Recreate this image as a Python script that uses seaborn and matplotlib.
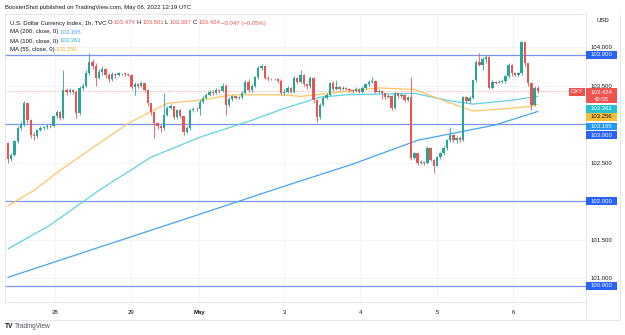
import matplotlib
matplotlib.use('Agg')
import matplotlib.pyplot as plt
from matplotlib.patches import Rectangle
from matplotlib.lines import Line2D
import pandas as pd
import seaborn as sns

# DXY 1h candles (open = previous close)
first_open = 102.75
closes = [102.55, 102.60, 102.78, 102.95, 103.00, 103.27, 103.05, 102.86, 102.84, 102.92,
          102.95, 102.96, 102.98, 102.97, 103.10, 103.16, 103.08, 103.44, 103.42, 103.44,
          103.42, 103.14, 103.47, 103.50, 103.66, 103.81, 103.76, 103.60, 103.68, 103.72,
          103.64, 103.58, 103.65, 103.64, 103.66, 103.66, 103.65, 103.64, 103.48, 103.52,
          103.50, 103.53, 103.44, 103.27, 103.16, 103.01, 102.97, 102.95, 103.12, 103.21,
          103.23, 103.09, 103.18, 103.10, 102.90, 102.95, 103.18, 103.20, 103.19, 103.29,
          103.34, 103.38, 103.42, 103.40, 103.44, 103.43, 103.50, 103.25, 103.32, 103.36,
          103.34, 103.35, 103.41, 103.55, 103.44, 103.50, 103.61, 103.73, 103.75, 103.60,
          103.58, 103.59, 103.58, 103.56, 103.40, 103.42, 103.47, 103.42, 103.60, 103.55,
          103.64, 103.52, 103.49, 103.60, 103.31, 103.09, 103.25, 103.34, 103.38, 103.53,
          103.45, 103.48, 103.45, 103.47, 103.46, 103.44, 103.43, 103.46, 103.42, 103.47,
          103.52, 103.55, 103.56, 103.42, 103.43, 103.40, 103.35, 103.37, 103.21, 103.40,
          103.36, 103.38, 103.31, 103.35, 102.56, 102.62, 102.49, 102.51, 102.49, 102.69,
          102.54, 102.46, 102.57, 102.62, 102.69, 102.79, 102.86, 102.79, 102.82, 102.79,
          103.35, 103.30, 103.34, 103.57, 103.81, 103.77, 103.84, 103.87, 103.47, 103.55,
          103.54, 103.55, 103.56, 103.62, 103.77, 103.66, 103.64, 103.66, 104.06, 103.79,
          103.53, 103.25, 103.47, 103.424]
highs = [102.77, 102.62, 102.80, 102.98, 103.04, 103.30, 103.28, 103.06, 102.90, 102.94,
         102.97, 102.98, 103.00, 103.00, 103.12, 103.18, 103.17, 103.70, 103.47, 103.47,
         103.46, 103.44, 103.50, 103.53, 103.70, 103.92, 103.84, 103.80, 103.72, 103.75,
         103.73, 103.66, 103.68, 103.67, 103.68, 103.67, 103.67, 103.66, 103.65, 103.55,
         103.54, 103.56, 103.54, 103.45, 103.28, 103.17, 103.03, 102.99, 103.40, 103.24,
         103.26, 103.24, 103.20, 103.19, 103.11, 102.97, 103.20, 103.22, 103.22, 103.32,
         103.36, 103.40, 103.44, 103.44, 103.47, 103.46, 103.53, 103.52, 103.35, 103.38,
         103.37, 103.37, 103.43, 103.57, 103.58, 103.52, 103.63, 103.75, 103.78, 103.76,
         103.62, 103.60, 103.60, 103.60, 103.58, 103.45, 103.49, 103.48, 103.62, 103.61,
         103.70, 103.65, 103.53, 103.62, 103.61, 103.32, 103.27, 103.36, 103.40, 103.55,
         103.56, 103.57, 103.49, 103.49, 103.48, 103.47, 103.45, 103.48, 103.47, 103.49,
         103.54, 103.57, 103.61, 103.57, 103.45, 103.44, 103.41, 103.39, 103.38, 103.42,
         103.41, 103.40, 103.39, 103.37, 103.61, 102.64, 102.63, 102.53, 102.52, 102.71,
         102.70, 102.55, 102.59, 102.64, 102.71, 102.81, 102.96, 102.87, 102.85, 102.84,
         103.37, 103.37, 103.36, 103.59, 103.83, 103.92, 103.87, 103.90, 103.88, 103.57,
         103.56, 103.57, 103.58, 103.64, 103.80, 103.78, 103.68, 103.68, 104.08, 104.06,
         103.80, 103.54, 103.50, 103.49]
lows = [102.50, 102.52, 102.58, 102.76, 102.92, 102.98, 103.02, 102.82, 102.80, 102.82,
        102.91, 102.93, 102.94, 102.95, 102.96, 103.08, 103.05, 103.06, 103.38, 103.40,
        103.39, 103.08, 103.12, 103.44, 103.48, 103.64, 103.72, 103.50, 103.58, 103.64,
        103.60, 103.55, 103.56, 103.60, 103.62, 103.64, 103.63, 103.62, 103.45, 103.38,
        103.47, 103.48, 103.42, 103.24, 103.12, 102.82, 102.94, 102.90, 102.93, 103.10,
        103.19, 103.06, 103.07, 103.08, 102.86, 102.88, 102.93, 103.16, 103.17, 103.12,
        103.27, 103.32, 103.36, 103.38, 103.39, 103.41, 103.42, 103.12, 103.22, 103.30,
        103.32, 103.33, 103.33, 103.39, 103.42, 103.42, 103.48, 103.59, 103.70, 103.58,
        103.56, 103.57, 103.57, 103.54, 103.38, 103.38, 103.40, 103.40, 103.41, 103.52,
        103.54, 103.50, 103.46, 103.47, 103.28, 103.03, 103.07, 103.23, 103.32, 103.36,
        103.43, 103.44, 103.43, 103.44, 103.44, 103.42, 103.41, 103.42, 103.40, 103.41,
        103.46, 103.50, 103.53, 103.40, 103.40, 103.33, 103.33, 103.34, 103.18, 103.20,
        103.34, 103.34, 103.29, 103.30, 102.54, 102.55, 102.47, 102.48, 102.47, 102.48,
        102.52, 102.36, 102.45, 102.55, 102.60, 102.67, 102.77, 102.77, 102.76, 102.77,
        102.78, 103.28, 103.28, 103.32, 103.55, 103.75, 103.70, 103.80, 103.45, 103.45,
        103.52, 103.53, 103.54, 103.54, 103.60, 103.63, 103.62, 103.62, 103.64, 103.76,
        103.50, 103.18, 103.23, 103.40]

# moving averages read at a few candle positions
ma200_at = [0, 28, 59, 84, 106, 126, 150, 163]
ma200 = [101.01, 101.40, 101.83, 102.18, 102.48, 102.79, 102.99, 103.165]
ma100_at = [0, 13, 28, 44, 59, 75, 84, 96, 104, 125, 135, 143, 155, 163]
ma100 = [101.38, 101.69, 102.14, 102.57, 102.83, 103.05, 103.19, 103.35, 103.38, 103.40,
         103.31, 103.26, 103.31, 103.361]
ma55_at = [0, 8, 16, 28, 37, 49, 59, 69, 84, 90, 114, 125, 135, 143, 150, 161, 163]
ma55 = [101.94, 102.14, 102.40, 102.75, 103.01, 103.27, 103.31, 103.38, 103.38, 103.36,
        103.47, 103.45, 103.29, 103.17, 103.19, 103.23, 103.256]

# header OHLC of the last bar
ohlc_text = ['103.474', '103.501', '103.387', '103.424']
change_text = '\u22120.047 (\u22120.05%)'

levels = [103.900, 103.000, 102.000, 100.900]
last_price = 103.424
price_ticks = [104.0, 103.5, 103.0, 102.5, 102.0, 101.5, 101.0]
day_labels = ['28', '29', 'May', '3', '4', '5', '6']
day_at = [14.5, 37.8, 58.8, 84.9, 108.3, 132.0, 155.4]

UP, DOWN = '#26a69a', '#ef5350'
C200, C100, C55 = '#42a5f5', '#5fd3e3', '#fbc765'
LEVEL, BADGE = '#7895f3', '#2962ff'
TXT = '#131722'

sns.set_theme(style='white')
plt.rcParams['font.family'] = ['Liberation Sans', 'DejaVu Sans']
FS = 4.3

W, H = 625, 335
fig = plt.figure(figsize=(W / 100, H / 100), dpi=100)
fx = lambda x: x / W
fy = lambda y: 1 - y / H

ax = fig.add_axes([fx(5), fy(302), (586 - 5) / W, (302 - 14) / H])

df = pd.DataFrame({'close': closes, 'high': highs, 'low': lows})
df['open'] = [first_open] + closes[:-1]
df['i'] = range(len(df))

# grid
for d in day_at:
    ax.axvline(d, color='#f0f3fa', lw=0.6, zorder=0)
for p in price_ticks:
    ax.axhline(p, color='#f0f3fa', lw=0.6, zorder=0)

# moving averages
sns.lineplot(x=ma200_at, y=ma200, ax=ax, color=C200, lw=0.9, zorder=2)
sns.lineplot(x=ma100_at, y=ma100, ax=ax, color=C100, lw=0.9, zorder=2)
sns.lineplot(x=ma55_at, y=ma55, ax=ax, color=C55, lw=0.9, zorder=2)

# horizontal levels + last price line
for lv in levels:
    ax.axhline(lv, color=LEVEL, lw=0.9, zorder=1)
ax.axhline(last_price, color='#f5a3a3', lw=0.6, ls=(0, (1.5, 1.5)), zorder=1)

# candles
for r in df.itertuples():
    col = UP if r.close >= r.open else DOWN
    top, bot = max(r.open, r.close), min(r.open, r.close)
    ax.vlines(r.i, min(r.low, bot), max(r.high, top), color=col, lw=0.6, zorder=3)
    ax.bar(r.i, max(top - bot, 0.008), bottom=bot, width=0.72, color=col, lw=0, zorder=4)

ax.set_xlim(-0.92, 177.8)
ax.set_ylim(100.69, 104.43)
ax.set_xticks(day_at)
ax.set_xticklabels(day_labels)
ax.get_xticklabels()[2].set_fontweight('bold')
ax.yaxis.tick_right()
ax.set_yticks(price_ticks)
# 103.000 and 102.000 sit under the level badges
ax.set_yticklabels(['' if p in levels else '%.3f' % p for p in price_ticks])
ax.tick_params(axis='x', length=0, pad=5.5, labelsize=FS, labelcolor=TXT)
ax.tick_params(axis='y', length=0, pad=3.6, labelsize=FS, labelcolor=TXT)
ax.set_xlabel('')
ax.set_ylabel('')
for s in ax.spines.values():
    s.set_color('#e0e3eb')
    s.set_linewidth(0.6)

# frame lines of the time/price axes
for (x0, y0, x1, y1) in [(5, 320, 620, 320), (620, 14, 620, 320), (586, 302, 586, 320)]:
    fig.add_artist(Line2D([fx(x0), fx(x1)], [fy(y0), fy(y1)], color='#e0e3eb', lw=0.6))


def py(v):
    return H - ax.transData.transform((0, v))[1]


def badge(yc, text, fc, tc='white', x0=586, w=31, h=7.6):
    fig.add_artist(Rectangle((fx(x0), fy(yc + h / 2)), w / W, h / H, transform=fig.transFigure,
                             fc=fc, ec='none', zorder=5))
    fig.text(fx(x0 + w / 2), fy(yc), text, ha='center', va='center', color=tc,
             fontsize=FS, zorder=6)


for lv in levels:
    badge(py(lv) + (11 if lv == 103.0 else 0), '%.3f' % lv, BADGE)
# last price (two lines) and MA values
fig.add_artist(Rectangle((fx(586), fy(103)), 31 / W, 15 / H, transform=fig.transFigure,
                         fc=DOWN, ec='none', zorder=5))
fig.text(fx(601.5), fy(92.3), '%.3f' % last_price, ha='center', va='center', color='white', fontsize=FS, zorder=6)
fig.text(fx(601.5), fy(99.3), '40:05', ha='center', va='center', color='white', fontsize=FS, zorder=6)
badge(108.7, '%.3f' % ma100[-1], '#22c3cf')
badge(117.0, '%.3f' % ma55[-1], '#fbbd3c', tc=TXT)
badge(126.3, '%.3f' % ma200[-1], '#2196f3')
badge(92.0, 'DXY', DOWN, x0=569, w=16, h=8)
fig.text(fx(603), fy(21), 'USD', ha='center', va='center', color=TXT, fontsize=FS)


def seq(x, y, parts):
    rend = fig.canvas.get_renderer()
    for s, c in parts:
        t = fig.text(fx(x), fy(y), s, color=c, fontsize=FS, va='center', ha='left', zorder=6)
        x += t.get_window_extent(renderer=rend).width + 1.2


fig.text(fx(5), fy(7), 'BoosterShot published on TradingView.com, May 06, 2022 12:19 UTC',
         color=TXT, fontsize=FS, va='center', ha='left')
seq(10, 23, [('U.S. Dollar Currency Index, 1h, TVC', TXT),
             ('O', TXT), (ohlc_text[0], DOWN), ('H', TXT), (ohlc_text[1], DOWN),
             ('L', TXT), (ohlc_text[2], DOWN), ('C', TXT), (ohlc_text[3], DOWN),
             (change_text, DOWN)])
seq(10, 32, [('MA (200, close, 0)', TXT), ('%.3f' % ma200[-1], C200)])
seq(10, 41, [('MA (100, close, 0)', TXT), ('%.3f' % ma100[-1], '#26b6c8')])
seq(10, 49.5, [('MA (55, close, 0)', TXT), ('%.3f' % ma55[-1], '#f5b236')])

fig.text(fx(5), fy(327), 'TV', color=TXT, fontsize=4.8, fontweight='bold', va='center', ha='left')
fig.text(fx(15), fy(327), 'TradingView', color='#50535e', fontsize=FS + 0.4, va='center', ha='left')

fig.savefig('out.png', dpi=100, facecolor='white')
